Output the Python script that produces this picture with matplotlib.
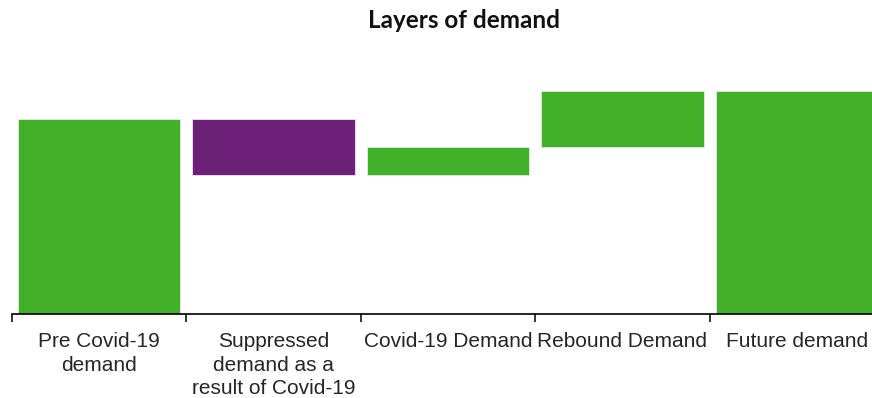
import matplotlib.pyplot as plt
import numpy as np

categories = ["Pre Covid-19\ndemand", "Suppressed\ndemand as a\nresult of Covid-19",
              "Covid-19 Demand", "Rebound Demand", "Future demand"]
start_value = 100
changes = [-28.5, 14, 29]
end_value = start_value + sum(changes)

green = "#43b02a"
purple = "#6d2077"

# waterfall: floating bars for the changes, full bars at both ends
running = start_value + np.cumsum([0] + changes)
bottoms = [0]
heights = [start_value]
colors = [green]
for i, c in enumerate(changes):
    lo = min(running[i], running[i + 1])
    bottoms.append(lo)
    heights.append(abs(c))
    colors.append(green if c > 0 else purple)
bottoms.append(0)
heights.append(end_value)
colors.append(green)

fig = plt.figure(figsize=(8.72, 3.98), dpi=100)
ax = fig.add_axes([11.7 / 872, 84 / 398, 872.5 / 872, 254 / 398])

x = np.arange(len(categories))
ax.bar(x, heights, bottom=bottoms, width=0.932, color=colors,
       edgecolor="#e8e8e8", linewidth=0.6)

ax.set_xlim(-0.5, len(categories) - 0.5)
ax.set_ylim(0, 130.3)

for s in ["left", "right", "top"]:
    ax.spines[s].set_visible(False)
ax.spines["bottom"].set_linewidth(1.2)
ax.set_yticks([])

ax.set_xticks(x)
ax.set_xticklabels(categories, fontsize=15, family="Liberation Sans",
                   color="#262626", linespacing=1.3)
ax.tick_params(axis="x", which="major", length=0, pad=13)
ax.set_xticks(np.arange(-0.5, len(categories), 1), minor=True)
ax.tick_params(axis="x", which="minor", length=6, width=1.1, direction="out")

fig.text(464 / 872, 1 - 20 / 398, "Layers of demand", ha="center", va="center",
         fontsize=17.5, fontweight="bold", family="Lato", color="#111111")

fig.savefig("out.png", dpi=100)
